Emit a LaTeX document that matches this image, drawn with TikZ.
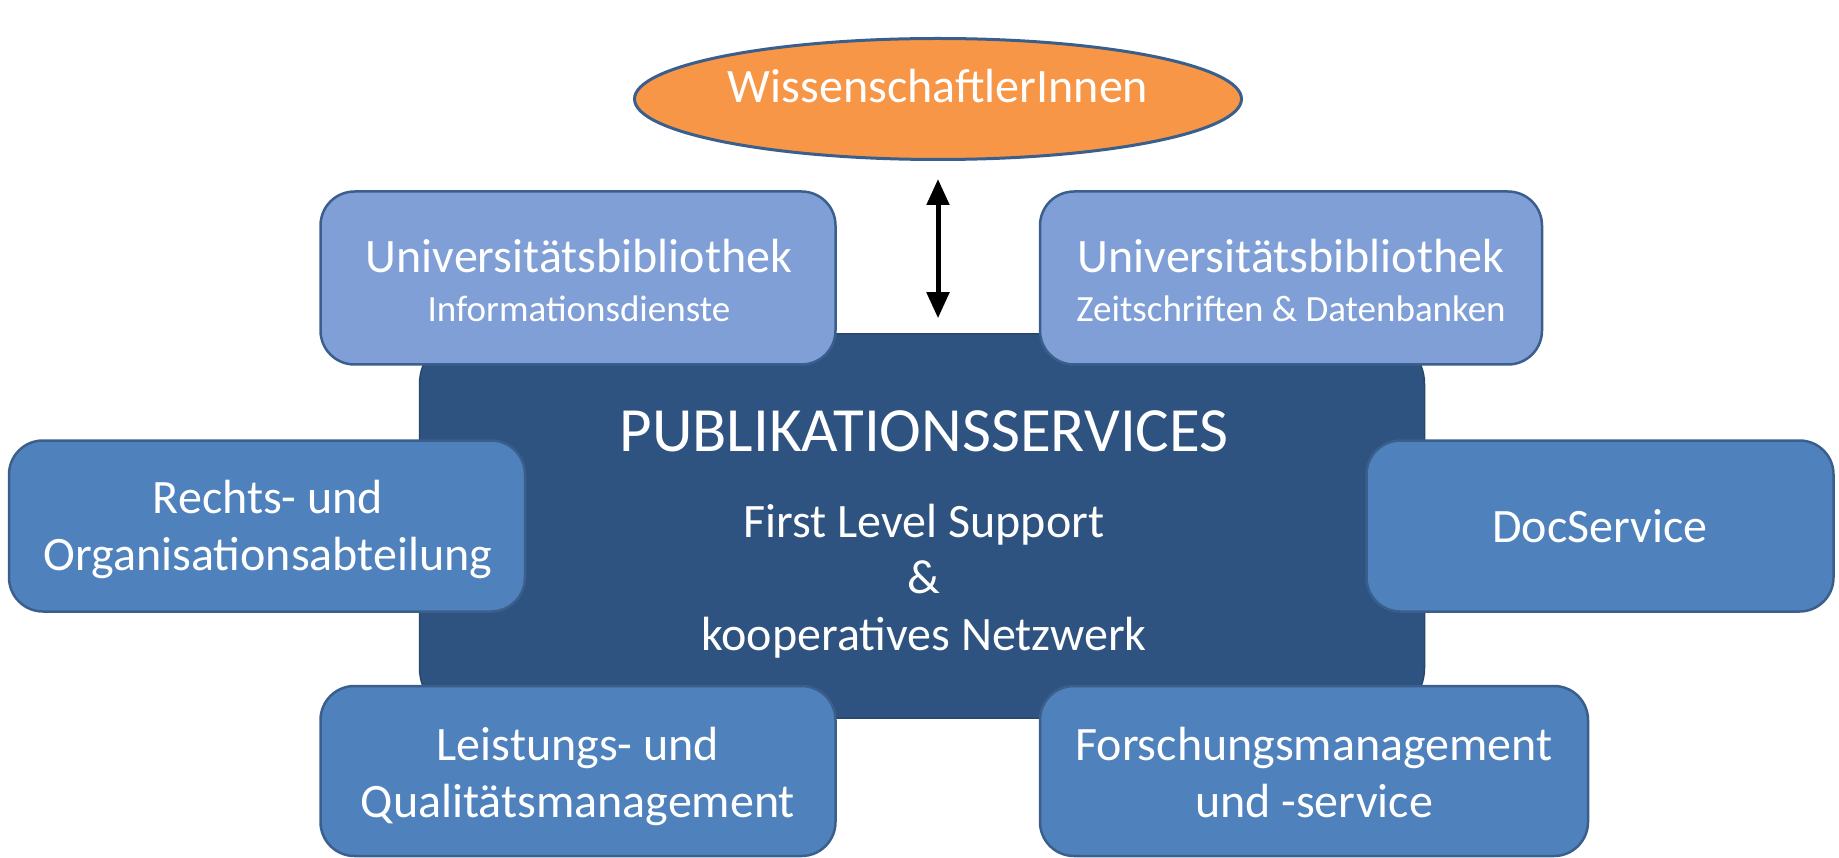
\documentclass[tikz,border=0pt]{standalone}
\usepackage{fontspec}
\setmainfont{Carlito}
\usetikzlibrary{arrows.meta,shapes.geometric}
\definecolor{orangefill}{HTML}{F79646}
\definecolor{edgeblue}{HTML}{3A5F8C}
\definecolor{lightbox}{HTML}{7F9FD6}
\definecolor{midbox}{HTML}{4F81BD}
\definecolor{darkbox}{HTML}{2F5380}
\begin{document}
\begin{tikzpicture}[x=1pt,y=-1pt,
  basebox/.style={rectangle, draw=edgeblue, line width=2.5pt, inner sep=0pt},
  lightbx/.style={basebox, fill=lightbox, rounded corners=34pt},
  midbx/.style={basebox, fill=midbox, rounded corners=34pt},
  centerbx/.style={rectangle, fill=darkbox, draw=darkbox!85!black, line width=1.5pt,
    rounded corners=50pt, inner sep=0pt},
  txt/.style={text=white, inner sep=0pt, anchor=base, font=\fontsize{48}{56}\selectfont},
  smalltx/.style={txt, font=\fontsize{37}{44}\selectfont},
  titletx/.style={txt, font=\fontsize{63}{70}\selectfont},
  biarrow/.style={{Triangle[width=22pt,length=26pt]}-{Triangle[width=22pt,length=26pt]}, line width=5pt, black}
]
\useasboundingbox (0,0) rectangle (1839,858);
% central box
\node[centerbx, minimum width=1005pt, minimum height=384pt] (center) at (922,526) {};
\node[titletx] (title) at (924,451) {PUBLIKATIONSSERVICES};
\node[txt] (sub1) at (924,537) {First Level Support};
\node[txt] (sub2) at (924,593) {\&};
\node[txt] (sub3) at (924,650) {kooperatives Netzwerk};
% ellipse
\node[ellipse, draw=edgeblue, line width=3pt, fill=orangefill, minimum width=607pt, minimum height=121pt,
  inner sep=0pt] (wiss) at (938,99) {};
\node[txt] (wisstxt) at (938,103) {WissenschaftlerInnen};
% surrounding boxes
\node[lightbx, minimum width=515pt, minimum height=173pt] (tl) at (578,278) {};
\node[txt] (tl1) at (579,273) {Universitätsbibliothek};
\node[smalltx] (tl2) at (579,322) {Informationsdienste};
\node[lightbx, minimum width=502pt, minimum height=173pt] (tr) at (1291,278) {};
\node[txt] (tr1) at (1291,273) {Universitätsbibliothek};
\node[smalltx] (tr2) at (1291,322) {Zeitschriften \& Datenbanken};
\node[midbx, minimum width=516pt, minimum height=171pt] (left) at (267,526) {};
\node[txt] (left1) at (268,513) {Rechts- und};
\node[txt] (left2) at (268,570) {Organisationsabteilung};
\node[midbx, minimum width=467pt, minimum height=171pt] (right) at (1600,526) {};
\node[txt] (right1) at (1600,542) {DocService};
\node[midbx, minimum width=515pt, minimum height=170pt] (bl) at (578,771) {};
\node[txt] (bl1) at (578,760) {Leistungs- und};
\node[txt] (bl2) at (578,817) {Qualitätsmanagement};
\node[midbx, minimum width=548pt, minimum height=170pt] (br) at (1314,771) {};
\node[txt] (br1) at (1314,760) {Forschungsmanagement};
\node[txt] (br2) at (1314,817) {und -service};
% arrow
\draw[biarrow, shorten <=18pt, shorten >=15pt] (wiss.south) -- (wiss.south |- center.north);
\end{tikzpicture}
\end{document}
